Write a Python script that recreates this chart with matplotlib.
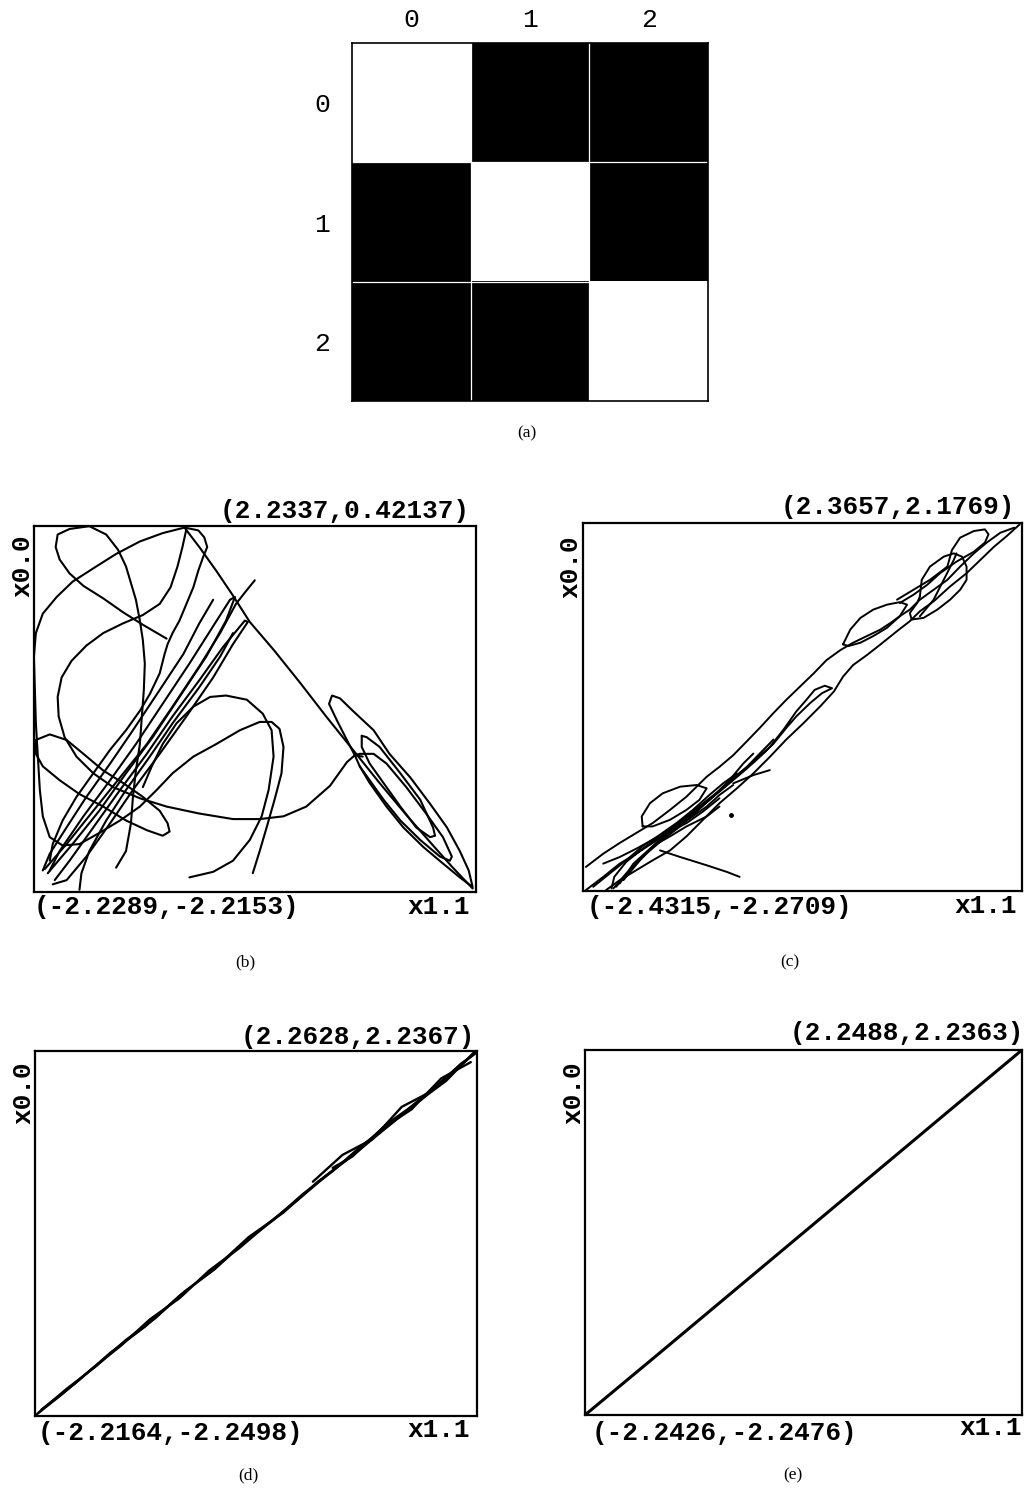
import matplotlib
matplotlib.use("Agg")
import matplotlib.pyplot as plt

# ---------------------------------------------------------------------------
# (a) coupling pattern between the three oscillators (1 = coupled, black)
nodes = ["0", "1", "2"]
coupling = [[0, 1, 1],
            [1, 0, 1],
            [1, 1, 0]]

# ---------------------------------------------------------------------------
# Phase portraits: horizontal axis x1.1, vertical axis x0.0
# axis extents as printed at the panel corners
b_lo = (-2.2289, -2.2153); b_hi = (2.2337, 0.42137)
c_lo = (-2.4315, -2.2709); c_hi = (2.3657, 2.1769)
d_lo = (-2.2164, -2.2498); d_hi = (2.2628, 2.2367)
e_lo = (-2.2426, -2.2476); e_hi = (2.2488, 2.2363)

# (b) unsynchronised trajectory, traced stroke by stroke
b_diag_x = [-0.71, -0.56, -0.39, -0.22, -0.05, 0.19, 0.46, 0.72, 0.99, 1.26, 1.53, 1.80, 2.00, 2.20]
b_diag_y = [0.41, 0.27, 0.10, -0.08, -0.27, -0.47, -0.71, -0.95, -1.19, -1.43, -1.66, -1.88, -2.04, -2.19]

b_egg_x = [-0.89, -1.13, -1.33, -1.53, -1.73, -1.87, -1.97, -2.01, -1.99, -1.87, -1.67, -1.50, -1.38,
           -1.30, -1.25, -1.20, -1.16, -1.13, -1.11, -1.12, -1.14, -1.16, -1.20, -1.23, -1.25, -1.30, -1.40]
b_egg_y = [-0.39, -0.29, -0.20, -0.10, -0.01, 0.08, 0.18, 0.27, 0.36, 0.40, 0.42, 0.36, 0.25,
           0.13, 0.01, -0.11, -0.26, -0.40, -0.57, -0.76, -0.95, -1.15, -1.34, -1.53, -1.72, -1.92, -2.04]

b_sweep_x = [-0.71, -0.93, -1.16, -1.40, -1.60, -1.84, -2.00, -2.14, -2.21, -2.23, -2.22, -2.21, -2.19,
             -2.17, -2.14, -2.07, -1.94, -1.77, -1.57, -1.36, -1.16, -0.99, -0.83, -0.62, -0.39, -0.15,
             0.05, 0.17, 0.25, 0.29, 0.27, 0.20, 0.12, 0.05, -0.02]
b_sweep_y = [0.41, 0.37, 0.31, 0.22, 0.13, 0.02, -0.09, -0.21, -0.35, -0.52, -0.76, -1.00, -1.24,
             -1.48, -1.67, -1.82, -1.88, -1.87, -1.79, -1.70, -1.60, -1.48, -1.36, -1.24, -1.15, -1.05,
             -0.99, -0.99, -1.04, -1.17, -1.36, -1.55, -1.75, -1.92, -2.08]

b_loop_x = [-2.21, -2.07, -1.90, -1.73, -1.53, -1.33, -1.13, -0.96, -0.88, -0.86, -0.93, -1.09, -1.30,
            -1.53, -1.77, -1.97, -2.14, -2.21, -2.21]
b_loop_y = [-1.12, -1.08, -1.12, -1.22, -1.34, -1.43, -1.53, -1.63, -1.72, -1.78, -1.81, -1.77, -1.70,
            -1.60, -1.51, -1.41, -1.31, -1.22, -1.12]

b_hook_x = [-0.71, -0.57, -0.51, -0.48, -0.52, -0.57, -0.62, -0.69, -0.76, -0.83, -0.88, -0.91, -0.96,
            -1.06, -1.16, -1.30, -1.46, -1.63, -1.80, -1.94, -2.04, -2.07]
b_hook_y = [0.41, 0.39, 0.34, 0.27, 0.20, 0.10, -0.02, -0.14, -0.26, -0.35, -0.43, -0.50, -0.64,
            -0.79, -0.91, -1.05, -1.19, -1.36, -1.53, -1.70, -1.87, -1.99]

b_arc_x = [-0.69, -0.73, -0.78, -0.85, -0.96, -1.13, -1.33, -1.53, -1.70, -1.85, -1.95, -1.99, -1.98,
           -1.92, -1.80, -1.63, -1.43, -1.16, -0.89, -0.56, -0.22, 0.05, 0.29, 0.52, 0.76, 0.93, 1.01, 1.09]
b_arc_y = [0.40, 0.27, 0.13, -0.02, -0.14, -0.22, -0.28, -0.35, -0.44, -0.55, -0.67, -0.81, -0.95,
           -1.10, -1.24, -1.36, -1.46, -1.54, -1.60, -1.65, -1.69, -1.69, -1.67, -1.60, -1.45, -1.28, -1.23, -1.24]

b_round_x = [-0.66, -0.42, -0.22, -0.05, 0.07, 0.14, 0.19, 0.17, 0.08, -0.08, -0.29, -0.45, -0.62,
             -0.79, -0.93, -1.04, -1.13]
b_round_y = [-2.11, -2.07, -1.99, -1.84, -1.67, -1.48, -1.24, -1.05, -0.93, -0.83, -0.80, -0.81, -0.88,
             -1.00, -1.15, -1.31, -1.46]

b_band1_x = [-2.12, -1.90, -1.63, -1.36, -1.09, -0.83, -0.56, -0.35, -0.19, -0.08, 0.00]
b_band1_y = [-2.05, -1.87, -1.63, -1.39, -1.15, -0.88, -0.59, -0.35, -0.14, -0.04, 0.03]

b_band2_x = [-2.09, -1.84, -1.57, -1.30, -1.03, -0.76, -0.49, -0.29, -0.20, -0.25, -0.42, -0.66, -0.93,
             -1.20, -1.46, -1.73, -1.97, -2.07]
b_band2_y = [-2.08, -1.87, -1.63, -1.36, -1.10, -0.81, -0.52, -0.26, -0.09, -0.11, -0.30, -0.57, -0.86,
             -1.15, -1.41, -1.67, -1.92, -2.06]

b_band3_x = [-2.04, -1.90, -1.70, -1.46, -1.23, -0.96, -0.69, -0.42, -0.22, -0.07, -0.10, -0.32, -0.56,
             -0.83, -1.09, -1.36, -1.63, -1.87, -2.02]
b_band3_y = [-2.16, -2.13, -1.96, -1.72, -1.48, -1.22, -0.95, -0.67, -0.43, -0.27, -0.26, -0.45, -0.69,
             -0.95, -1.22, -1.48, -1.75, -1.99, -2.13]

b_band4_x = [-1.77, -1.75, -1.67, -1.50, -1.30, -1.06, -0.83, -0.56, -0.35, -0.22]
b_band4_y = [-2.20, -2.08, -1.92, -1.70, -1.48, -1.24, -1.00, -0.74, -0.52, -0.35]

b_band5_x = [-2.14, -2.07, -1.90, -1.70, -1.46, -1.23, -0.96, -0.72, -0.56, -0.42]
b_band5_y = [-2.06, -1.94, -1.75, -1.53, -1.29, -1.05, -0.76, -0.50, -0.28, -0.11]

b_outer_x = [1.01, 0.93, 0.83, 0.75, 0.78, 0.86, 0.99, 1.20, 1.36, 1.57, 1.77, 1.94, 2.07, 2.16, 2.20,
             2.07, 1.90, 1.70, 1.50, 1.33, 1.16, 1.06, 1.01]
b_outer_y = [-1.23, -1.12, -0.98, -0.86, -0.80, -0.82, -0.91, -1.05, -1.22, -1.39, -1.58, -1.75, -1.92,
             -2.06, -2.18, -2.11, -2.01, -1.89, -1.75, -1.60, -1.43, -1.31, -1.23]

b_middle_x = [1.01, 1.06, 1.20, 1.33, 1.53, 1.73, 1.90, 1.99, 1.97, 1.87, 1.67, 1.47, 1.30, 1.16, 1.06]
b_middle_y = [-1.23, -1.22, -1.22, -1.29, -1.46, -1.65, -1.82, -1.96, -1.99, -1.96, -1.84, -1.70, -1.55,
              -1.41, -1.31]

b_inner_x = [1.08, 1.13, 1.26, 1.47, 1.67, 1.80, 1.82, 1.77, 1.63, 1.47, 1.30, 1.16, 1.08, 1.08]
b_inner_y = [-1.09, -1.10, -1.17, -1.36, -1.55, -1.75, -1.81, -1.82, -1.75, -1.60, -1.43, -1.29, -1.17, -1.09]

# (c) partially synchronised trajectory
c_upper_x = [-2.40, -2.21, -2.03, -1.85, -1.67, -1.48, -1.30, -1.08, -0.94, -0.79, -0.64, -0.50, -0.35,
             -0.21, -0.06, 0.09, 0.23, 0.38, 0.52, 0.67, 0.82, 0.93, 1.03, 1.14, 1.25, 1.40, 1.55, 1.69,
             1.84, 1.98, 2.13, 2.28]
c_upper_y = [-1.98, -1.82, -1.69, -1.57, -1.45, -1.29, -1.13, -0.89, -0.77, -0.63, -0.46, -0.30, -0.12,
             0.04, 0.20, 0.36, 0.52, 0.64, 0.73, 0.81, 0.89, 0.97, 1.05, 1.13, 1.25, 1.37, 1.49, 1.65,
             1.81, 1.94, 2.06, 2.12]

c_lower_x = [-2.18, -2.03, -1.85, -1.67, -1.48, -1.30, -1.12, -0.94, -0.75, -0.57, -0.39, -0.21, -0.02,
             0.16, 0.31, 0.41, 0.52, 0.67, 0.82, 1.00, 1.14, 1.25, 1.40, 1.58, 1.76, 1.91, 2.06, 2.20, 2.34]
c_lower_y = [-2.26, -2.14, -2.02, -1.90, -1.78, -1.61, -1.41, -1.21, -1.03, -0.85, -0.65, -0.44, -0.24,
             -0.04, 0.14, 0.32, 0.46, 0.58, 0.71, 0.87, 0.99, 1.11, 1.23, 1.41, 1.57, 1.73, 1.89, 2.02, 2.16]

c_wander_x = [-2.40, -2.21, -2.03, -1.85, -1.67, -1.48, -1.30, -1.12, -0.94, -0.79, -0.64, -0.50, -0.35,
              -0.21, -0.10, 0.05, 0.18, 0.29, 0.21, 0.10, 0.01, -0.10, -0.24, -0.39, -0.57, -0.72, -0.86,
              -1.05, -1.23, -1.41, -1.59, -1.78, -1.96, -2.09, -2.12]
c_wander_y = [-2.26, -2.10, -1.94, -1.82, -1.69, -1.55, -1.39, -1.23, -1.07, -0.93, -0.79, -0.65, -0.49,
              -0.30, -0.16, 0.00, 0.12, 0.18, 0.21, 0.16, 0.04, -0.10, -0.32, -0.53, -0.71, -0.85, -0.99,
              -1.15, -1.31, -1.47, -1.61, -1.76, -1.92, -2.10, -2.24]

c_lobe_x = [0.41, 0.49, 0.60, 0.74, 0.89, 1.03, 1.11, 1.03, 0.89, 0.74, 0.60, 0.47, 0.41]
c_lobe_y = [0.71, 0.89, 1.03, 1.13, 1.19, 1.22, 1.19, 1.05, 0.91, 0.81, 0.73, 0.69, 0.71]

c_tip_x = [1.00, 1.18, 1.36, 1.55, 1.60, 1.69, 1.84, 1.96, 2.00, 1.96, 1.84, 1.65, 1.47, 1.33, 1.18, 1.03]
c_tip_y = [1.25, 1.37, 1.49, 1.65, 1.85, 2.00, 2.08, 2.10, 2.04, 1.94, 1.83, 1.71, 1.57, 1.43, 1.31, 1.21]

c_knot_x = [1.25, 1.27, 1.36, 1.51, 1.62, 1.71, 1.76, 1.76, 1.69, 1.58, 1.44, 1.29, 1.16, 1.14, 1.22, 1.25]
c_knot_y = [1.29, 1.49, 1.65, 1.77, 1.81, 1.77, 1.65, 1.49, 1.37, 1.25, 1.13, 1.03, 1.01, 1.09, 1.21, 1.29]

c_knot2_x = [1.25, 1.40, 1.51, 1.62, 1.65]
c_knot2_y = [1.05, 1.25, 1.49, 1.73, 1.81]

c_blob_x = [-1.78, -1.79, -1.70, -1.56, -1.37, -1.19, -1.08, -1.16, -1.30, -1.48, -1.67, -1.78]
c_blob_y = [-1.49, -1.37, -1.21, -1.09, -1.01, -0.99, -1.03, -1.17, -1.29, -1.41, -1.49, -1.49]

c_strand1_x = [-2.10, -1.96, -1.78, -1.63, -1.45, -1.26, -1.05, -0.86, -0.64, -0.50, -0.35]
c_strand1_y = [-2.24, -2.06, -1.86, -1.69, -1.53, -1.37, -1.17, -0.97, -0.77, -0.61, -0.44]

c_strand2_x = [-2.07, -1.92, -1.74, -1.56, -1.37, -1.19, -1.01, -0.83, -0.68, -0.57]
c_strand2_y = [-2.22, -2.02, -1.82, -1.65, -1.49, -1.31, -1.13, -0.93, -0.73, -0.61]

c_strand3_x = [-2.21, -2.03, -1.85, -1.67, -1.48, -1.30, -1.12, -0.94]
c_strand3_y = [-1.94, -1.86, -1.76, -1.65, -1.55, -1.45, -1.31, -1.15]

c_strand4_x = [-2.03, -1.88, -1.67, -1.48, -1.30, -1.08, -0.94]
c_strand4_y = [-2.18, -1.94, -1.73, -1.61, -1.49, -1.37, -1.25]

c_strand5_x = [-2.32, -2.14, -1.96, -1.78, -1.59, -1.41, -1.23, -1.05, -0.90, -0.75]
c_strand5_y = [-2.22, -2.06, -1.90, -1.73, -1.59, -1.45, -1.29, -1.11, -0.97, -0.85]

c_strand6_x = [-1.99, -1.81, -1.63, -1.45, -1.26, -1.08, -0.94, -0.79]
c_strand6_y = [-2.14, -1.90, -1.69, -1.53, -1.39, -1.25, -1.11, -0.99]

c_tail_x = [-1.59, -1.37, -1.08, -0.86, -0.72]
c_tail_y = [-1.78, -1.86, -1.96, -2.04, -2.10]

c_spur_x = [-0.79, -0.57, -0.39]
c_spur_y = [-0.97, -0.87, -0.81]

c_dot = (-0.81, -1.35)

# (d) nearly synchronised trajectory
d_run1_x = [-2.20, -1.90, -1.60, -1.30, -1.00, -0.70, -0.40, -0.10, 0.20, 0.50, 0.80, 1.10, 1.40, 1.70, 2.00, 2.25]
d_run1_y = [-2.23, -1.92, -1.64, -1.32, -1.05, -0.72, -0.45, -0.12, 0.16, 0.48, 0.76, 1.08, 1.35, 1.66, 1.96, 2.22]
d_run2_x = [2.24, 1.95, 1.65, 1.35, 1.05, 0.75, 0.45, 0.15, -0.15, -0.45, -0.75, -1.05, -1.35, -1.65, -1.95, -2.18]
d_run2_y = [2.23, 1.87, 1.60, 1.30, 1.00, 0.72, 0.41, 0.12, -0.19, -0.46, -0.80, -1.06, -1.39, -1.68, -1.99, -2.21]
d_run3_x = [-2.15, -1.80, -1.45, -1.10, -0.75, -0.40, -0.05, 0.30, 0.65, 1.00, 1.35, 1.70, 2.05, 2.26]
d_run3_y = [-2.17, -1.84, -1.47, -1.15, -0.77, -0.44, -0.05, 0.25, 0.63, 0.95, 1.34, 1.64, 2.02, 2.23]
d_run4_x = [2.20, 1.90, 1.60, 1.30, 1.00, 0.80]
d_run4_y = [2.10, 1.90, 1.52, 1.28, 0.94, 0.80]
d_run5_x = [0.60, 0.90, 1.20, 1.50, 1.80, 2.10, 2.24]
d_run5_y = [0.63, 0.96, 1.15, 1.55, 1.74, 2.08, 2.20]

# (e) fully synchronised trajectory
e_x = [-2.2426, -1.50, -0.75, 0.00, 0.75, 1.50, 2.2488]
e_y = [-2.2476, -1.51, -0.76, -0.01, 0.74, 1.49, 2.2363]

# ---------------------------------------------------------------------------
W, H = 1027, 1495
fig = plt.figure(figsize=(W / 100, H / 100), dpi=100)
fig.patch.set_facecolor("white")

MONO = "Liberation Mono"
SERIF = "Liberation Serif"


def box(l, t, r, b):
    return [l / W, 1 - b / H, (r - l) / W, (b - t) / H]


def at(x, y):
    return x / W, 1 - y / H


# (a) ---------------------------------------------------------------
axa = fig.add_axes(box(352, 43, 708, 401))
axa.imshow(coupling, cmap="gray_r", vmin=0, vmax=1, interpolation="nearest", aspect="auto")
for k in (0.5, 1.5):
    axa.axhline(k, color="white", lw=0.9)
    axa.axvline(k, color="white", lw=0.9)
axa.set_xticks(range(len(nodes)))
axa.set_xticklabels(nodes, fontfamily=MONO, fontsize=19)
axa.set_yticks(range(len(nodes)))
axa.set_yticklabels(nodes, fontfamily=MONO, fontsize=19)
axa.xaxis.tick_top()
axa.tick_params(axis="x", length=0, pad=8)
axa.tick_params(axis="y", length=0, pad=16)
for s in axa.spines.values():
    s.set_linewidth(1.2)
fig.text(*at(527, 433), "(a)", ha="center", va="center", fontfamily=SERIF, fontsize=12.5)


def phase_panel(rect_px, lo, hi, strokes, lw, labels_px, caption, cap_px):
    ax = fig.add_axes(box(*rect_px))
    for xs, ys in strokes:
        ax.plot(xs, ys, color="black", lw=lw, solid_joinstyle="round", solid_capstyle="round")
    ax.set_xlim(lo[0], hi[0])
    ax.set_ylim(lo[1], hi[1])
    ax.set_xticks([])
    ax.set_yticks([])
    for s in ax.spines.values():
        s.set_linewidth(1.6)
    (tx, ty), (bx, by), (xx, xy), (vx, vy) = labels_px
    kw = dict(fontfamily=MONO, fontweight="bold", fontsize=18.8)
    fig.text(*at(tx, ty), f"({hi[0]:g},{hi[1]:g})", ha="right", va="center", **kw)
    fig.text(*at(bx, by), f"({lo[0]:g},{lo[1]:g})", ha="left", va="center", **kw)
    fig.text(*at(xx, xy), "x1.1", ha="right", va="center", **kw)
    fig.text(*at(vx, vy), "x0.0", ha="center", va="center", rotation=90, **kw)
    fig.text(*at(*cap_px), caption, ha="center", va="center", fontfamily=SERIF, fontsize=12.5)
    return ax


b_strokes = [(b_diag_x, b_diag_y), (b_egg_x, b_egg_y), (b_sweep_x, b_sweep_y),
             (b_loop_x, b_loop_y), (b_hook_x, b_hook_y), (b_arc_x, b_arc_y),
             (b_round_x, b_round_y), (b_band1_x, b_band1_y), (b_band2_x, b_band2_y),
             (b_band3_x, b_band3_y), (b_band4_x, b_band4_y), (b_band5_x, b_band5_y),
             (b_outer_x, b_outer_y), (b_middle_x, b_middle_y), (b_inner_x, b_inner_y)]
phase_panel((34, 526, 476, 892), b_lo, b_hi, b_strokes, 1.5,
            [(470, 511), (34, 907), (470, 907), (22, 566)], "(b)", (245, 962))

c_strokes = [(c_upper_x, c_upper_y), (c_lower_x, c_lower_y), (c_wander_x, c_wander_y),
             (c_lobe_x, c_lobe_y), (c_tip_x, c_tip_y), (c_knot_x, c_knot_y),
             (c_knot2_x, c_knot2_y), (c_blob_x, c_blob_y), (c_strand1_x, c_strand1_y),
             (c_strand2_x, c_strand2_y), (c_strand3_x, c_strand3_y), (c_strand4_x, c_strand4_y),
             (c_strand5_x, c_strand5_y), (c_strand6_x, c_strand6_y),
             (c_tail_x, c_tail_y), (c_spur_x, c_spur_y)]
axc = phase_panel((583, 523, 1022, 891), c_lo, c_hi, c_strokes, 1.4,
                  [(1015, 507), (587, 907), (1017, 906), (570, 567)], "(c)", (790, 962))
axc.plot([c_dot[0]], [c_dot[1]], marker="o", ms=2.5, color="black")

d_strokes = [(d_run1_x, d_run1_y), (d_run2_x, d_run2_y), (d_run3_x, d_run3_y),
             (d_run4_x, d_run4_y), (d_run5_x, d_run5_y)]
phase_panel((35, 1051, 477, 1416), d_lo, d_hi, d_strokes, 1.7,
            [(475, 1037), (38, 1433), (470, 1430), (23, 1093)], "(d)", (248, 1475))

phase_panel((585, 1050, 1022, 1415), e_lo, e_hi, [(e_x, e_y)], 2.2,
            [(1024, 1033), (592, 1433), (1022, 1428), (573, 1093)], "(e)", (793, 1475))

fig.savefig("out.png", dpi=100, facecolor="white")
